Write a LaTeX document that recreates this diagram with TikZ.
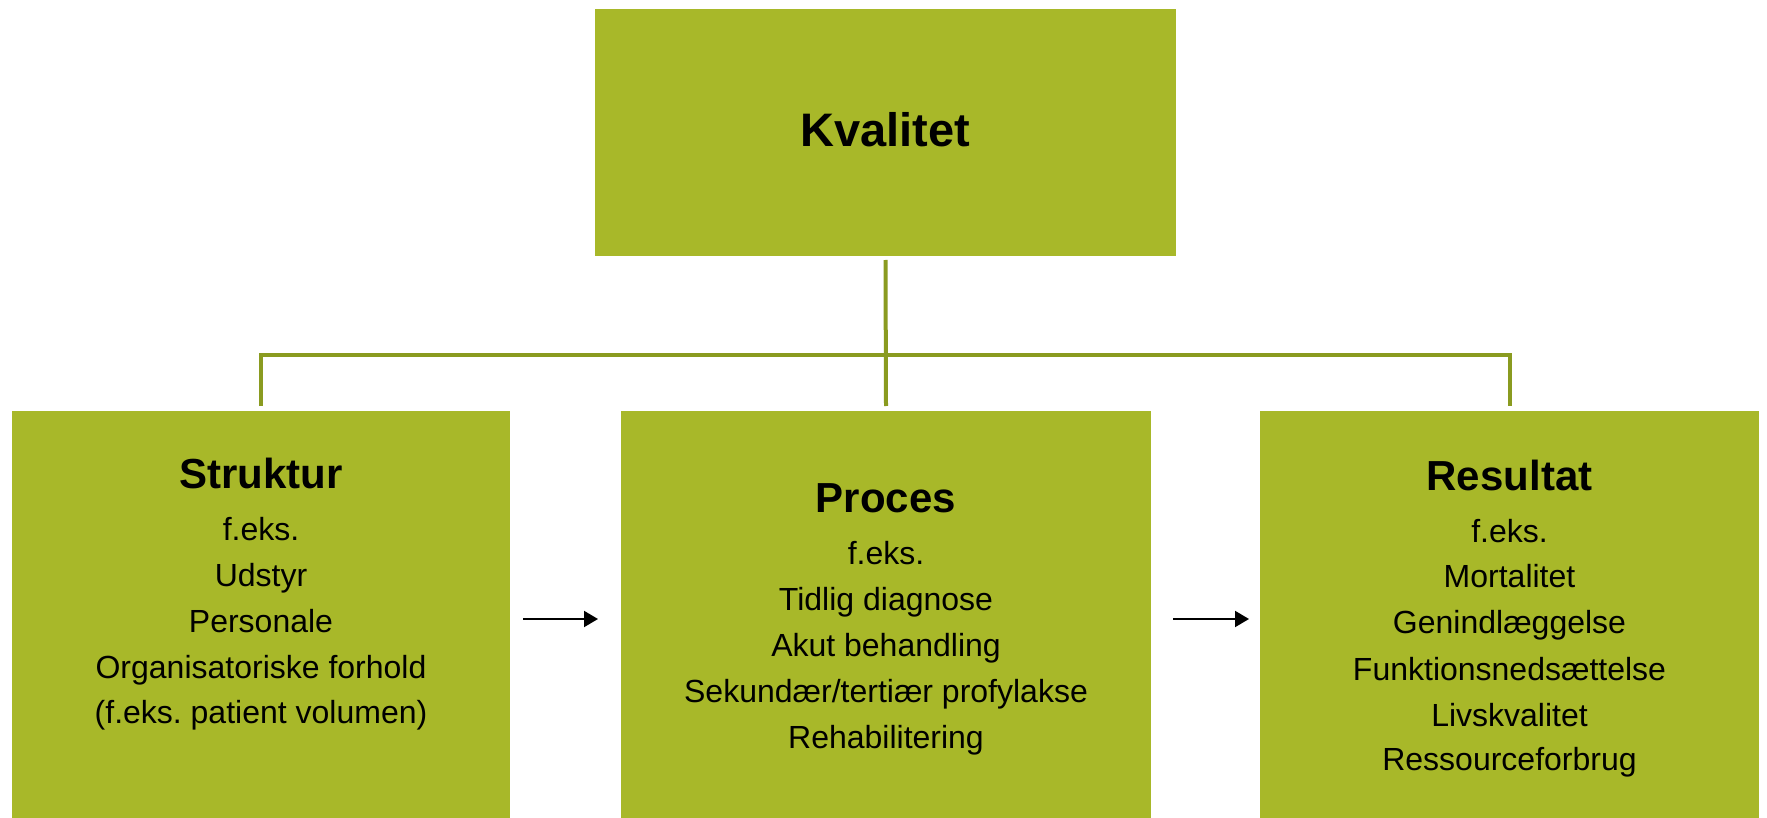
\documentclass[tikz,border=0pt]{standalone}
\usepackage{fontspec}
\setmainfont{Liberation Sans}
\usetikzlibrary{arrows.meta}
\definecolor{boxgreen}{RGB}{168,184,41}
\definecolor{lineolive}{RGB}{138,155,32}
\frenchspacing
\begin{document}
\begin{tikzpicture}[x=0.5pt,y=-0.5pt,
  box/.style={fill=boxgreen, draw=none, inner sep=0pt, outer sep=0pt},
  conn/.style={draw=lineolive, line width=2pt},
  arr/.style={draw=black, line width=1pt, -{Triangle[length=7pt,width=8pt]}},
  title/.style={font=\fontsize{23.5}{28}\selectfont\bfseries, anchor=base, inner sep=0pt},
  head/.style={font=\fontsize{21}{25}\selectfont\bfseries, anchor=base, inner sep=0pt},
  item/.style={font=\fontsize{16}{20}\selectfont, anchor=base, inner sep=0pt},
]
\useasboundingbox (0,0) rectangle (1767,818);
% boxes
\node[box, minimum width=290.5pt, minimum height=123.5pt] (k) at (885.5,132.5) {};
\node[box, minimum width=249pt, minimum height=203.5pt] (s) at (261,614.5) {};
\node[box, minimum width=265pt, minimum height=203.5pt] (p) at (886,614.5) {};
\node[box, minimum width=249.5pt, minimum height=203.5pt] (r) at (1509.5,614.5) {};
% connectors
\draw[conn] ([yshift=-2pt]k.south) -- ([yshift=2.5pt]p.north);
\draw[conn] ([yshift=2.5pt]s.north) -- ++(0,-51) -| ([yshift=2.5pt]r.north);
\draw[arr, shorten <=6.5pt, shorten >=11.5pt] ([yshift=-2.25pt]s.east) -- ([yshift=-2.25pt]p.west);
\draw[arr, shorten <=11pt, shorten >=5.5pt] ([yshift=-2.25pt]p.east) -- ([yshift=-2.25pt]r.west);
% texts
\node[title] (kt) at (885,147) {Kvalitet};
\node[head] (st) at (261,488) {Struktur};
\node[item] (s1) at (261,540) {f.eks.};
\node[item] (s2) at (261,586) {Udstyr};
\node[item] (s3) at (261,632) {Personale};
\node[item] (s4) at (261,678) {Organisatoriske forhold};
\node[item] (s5) at (261,723) {(f.eks. patient volumen)};
\node[head] (pt) at (886,512) {Proces};
\node[item] (p1) at (886,564) {f.eks.};
\node[item] (p2) at (886,610) {Tidlig diagnose};
\node[item] (p3) at (886,656) {Akut behandling};
\node[item] (p4) at (886,702) {Sekundær/tertiær profylakse};
\node[item] (p5) at (886,748) {Rehabilitering};
\node[head] (rt) at (1509.5,490) {Resultat};
\node[item] (r1) at (1509.5,542) {f.eks.};
\node[item] (r2) at (1509.5,587) {Mortalitet};
\node[item] (r3) at (1509.5,633) {Genindlæggelse};
\node[item] (r4) at (1509.5,680) {Funktionsnedsættelse};
\node[item] (r5) at (1509.5,726) {Livskvalitet};
\node[item] (r6) at (1509.5,770) {Ressourceforbrug};
\end{tikzpicture}
\end{document}
